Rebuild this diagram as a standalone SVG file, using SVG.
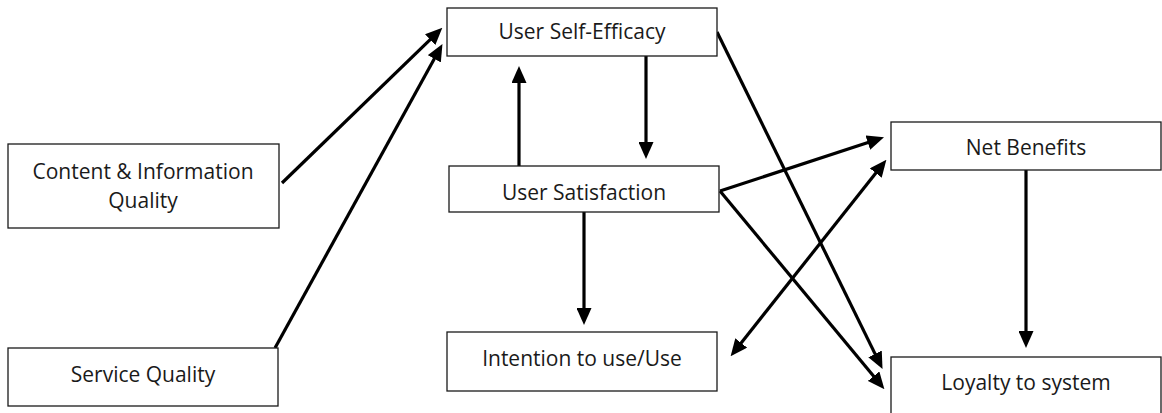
<svg xmlns="http://www.w3.org/2000/svg" width="1162" height="413" viewBox="0 0 1162 413">
  <style>
    .box { fill: #ffffff; stroke: #1a1a1a; stroke-width: 1.3; }
    .lbl { font-family: "Open Sans", "Liberation Sans", sans-serif; font-size: 21px; fill: #1a1a1a; text-anchor: middle; }
    .edge { fill: none; stroke: #000000; stroke-width: 3.2; }
  </style>
  <defs>
    <marker id="arr" viewBox="0 0 17 15" refX="9" refY="7.5" markerWidth="17" markerHeight="15" markerUnits="userSpaceOnUse" orient="auto-start-reverse">
      <path d="M0,0 L17,7.5 L0,15 Z" fill="#000000"/>
    </marker>
  </defs>
  <rect width="1162" height="413" fill="#ffffff"/>

  <g id="connectors">
    <line class="edge" x1="282" y1="183" x2="436.6" y2="33.3" marker-end="url(#arr)"/>
    <line class="edge" x1="275" y1="348" x2="438.6" y2="50.9" marker-end="url(#arr)"/>
    <line class="edge" x1="519" y1="166" x2="519" y2="74" marker-end="url(#arr)"/>
    <line class="edge" x1="646" y1="56" x2="646" y2="151" marker-end="url(#arr)"/>
    <line class="edge" x1="717" y1="32" x2="879" y2="361.9" marker-end="url(#arr)"/>
    <line class="edge" x1="720" y1="191" x2="876.4" y2="139.8" marker-end="url(#arr)"/>
    <line class="edge" x1="720" y1="191" x2="879.3" y2="383.1" marker-end="url(#arr)"/>
    <line class="edge" x1="735.6" y1="350" x2="881.4" y2="166" marker-start="url(#arr)" marker-end="url(#arr)"/>
    <line class="edge" x1="584" y1="212" x2="584" y2="317" marker-end="url(#arr)"/>
    <line class="edge" x1="1026" y1="170" x2="1026" y2="340" marker-end="url(#arr)"/>
  </g>

  <g id="user-self-efficacy">
    <rect class="box" x="447" y="8" width="270" height="48"/>
    <text class="lbl" x="582" y="39">User Self-Efficacy</text>
  </g>
  <g id="user-satisfaction">
    <rect class="box" x="449" y="166" width="270" height="46"/>
    <text class="lbl" x="584" y="200">User Satisfaction</text>
  </g>
  <g id="net-benefits">
    <rect class="box" x="891" y="122" width="270" height="48"/>
    <text class="lbl" x="1026" y="155">Net Benefits</text>
  </g>
  <g id="loyalty">
    <rect class="box" x="891" y="357" width="270" height="60"/>
    <text class="lbl" x="1026" y="390">Loyalty to system</text>
  </g>
  <g id="intention">
    <rect class="box" x="447" y="332" width="270" height="59"/>
    <text class="lbl" x="582" y="366">Intention to use/Use</text>
  </g>
  <g id="content-quality">
    <rect class="box" x="8" y="144" width="271" height="84"/>
    <text class="lbl" x="143" y="179">Content &amp; Information</text>
    <text class="lbl" x="143" y="208">Quality</text>
  </g>
  <g id="service-quality">
    <rect class="box" x="8" y="348" width="270" height="58"/>
    <text class="lbl" x="143" y="382">Service Quality</text>
  </g>
</svg>
